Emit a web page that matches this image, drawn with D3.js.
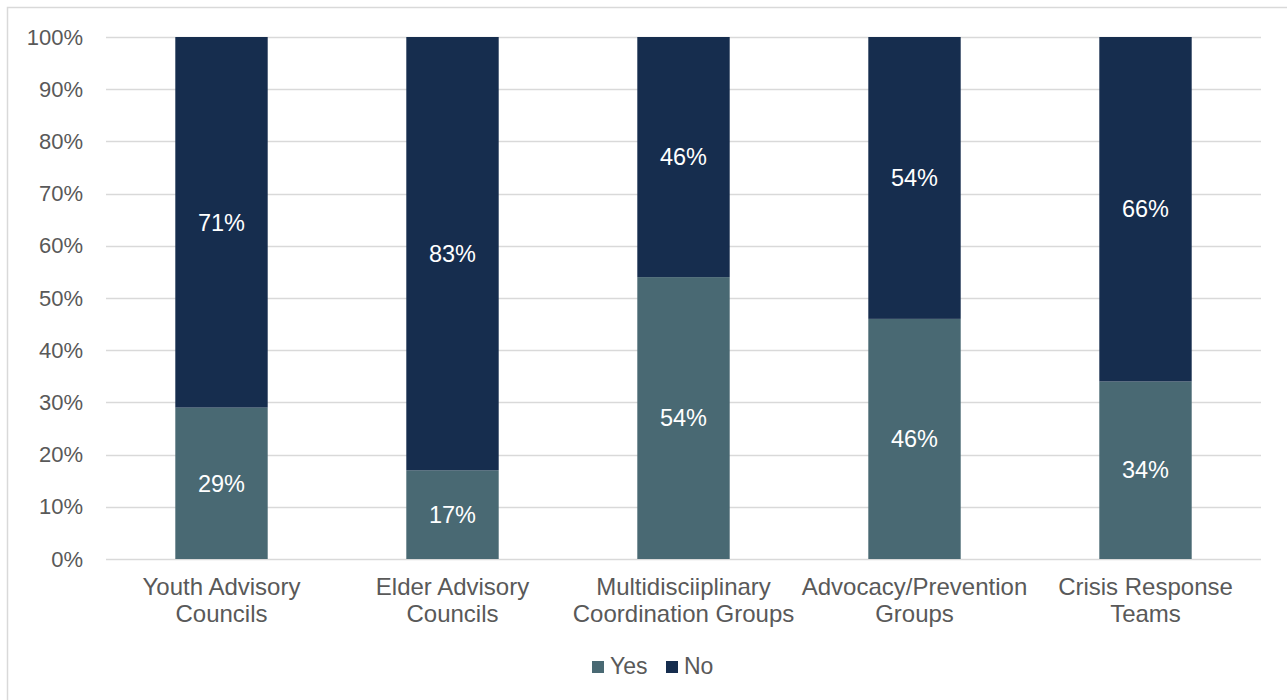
<!DOCTYPE html>
<html>
<head>
<meta charset="utf-8">
<script src="https://cdn.jsdelivr.net/npm/d3@7"></script>
<style>
  html, body { margin: 0; padding: 0; background: #fff; }
  svg { display: block; font-family: "Liberation Sans", Arial, sans-serif; }
</style>
</head>
<body>
<svg id="chart" width="1287" height="700"></svg>
<script>
// Share of respondents with each type of group
const categories = [
  ["Youth Advisory", "Councils"],
  ["Elder Advisory", "Councils"],
  ["Multidisciiplinary", "Coordination Groups"],
  ["Advocacy/Prevention", "Groups"],
  ["Crisis Response", "Teams"]
];
const yesValues = [29, 17, 54, 46, 34];
const noValues = [71, 83, 46, 54, 66];
const seriesNames = ["Yes", "No"];
const seriesColors = ["#496973", "#162D4E"];
const yTicks = [0, 10, 20, 30, 40, 50, 60, 70, 80, 90, 100];

const svg = d3.select("#chart");
const margin = { left: 106, right: 26, top: 37, bottom: 141 };
const W = 1287, H = 700;
const textColor = "#595959";

// Outer frame
svg.append("rect")
  .attr("x", 7.5).attr("y", 7.5)
  .attr("width", W).attr("height", H)
  .attr("fill", "none").attr("stroke", "#d9d9d9").attr("stroke-width", 1.5);

const x = d3.scaleBand()
  .domain(d3.range(categories.length))
  .range([margin.left, W - margin.right])
  .paddingInner(0.6)
  .paddingOuter(0.3);

const y = d3.scaleLinear().domain([0, 100]).range([H - margin.bottom, margin.top]);

// Gridlines
svg.append("g").selectAll("line").data(yTicks).join("line")
  .attr("x1", margin.left).attr("x2", W - margin.right)
  .attr("y1", d => Math.round(y(d)) + 0.5).attr("y2", d => Math.round(y(d)) + 0.5)
  .attr("stroke", "#d9d9d9").attr("stroke-width", 1.5);

// Y axis labels
const yAxis = d3.axisLeft(y).tickValues(yTicks).tickFormat(d => d + "%").tickSize(0).tickPadding(23);
const yg = svg.append("g").attr("transform", `translate(${margin.left},0)`).call(yAxis);
yg.select(".domain").remove();
yg.selectAll("text").attr("fill", textColor).style("font-size", "22px")
  .style("font-family", "'Liberation Sans', Arial, sans-serif");

// Stacked bars
const rows = categories.map((c, i) => ({ i, Yes: yesValues[i], No: noValues[i] }));
const stack = d3.stack().keys(seriesNames)(rows);

const layers = svg.append("g").selectAll("g").data(stack).join("g")
  .attr("fill", (d, k) => seriesColors[k]);

layers.selectAll("rect").data(d => d).join("rect")
  .attr("x", d => x(d.data.i))
  .attr("width", x.bandwidth())
  .attr("y", d => y(d[1]))
  .attr("height", d => y(d[0]) - y(d[1]));

// Value labels
layers.selectAll("text").data(d => d.map(v => ({ v, key: d.key }))).join("text")
  .attr("x", d => x(d.v.data.i) + x.bandwidth() / 2)
  .attr("y", d => (y(d.v[0]) + y(d.v[1])) / 2)
  .attr("dy", "0.35em")
  .attr("text-anchor", "middle")
  .attr("fill", "#fff")
  .style("font-size", "23.5px")
  .text(d => d.v.data[d.key] + "%");

// Category labels
const cat = svg.append("g").selectAll("text").data(categories).join("text")
  .attr("x", (d, i) => x(i) + x.bandwidth() / 2)
  .attr("y", H - margin.bottom + 36)
  .attr("text-anchor", "middle")
  .attr("fill", textColor)
  .style("font-size", "24px");
cat.selectAll("tspan").data(d => d).join("tspan")
  .attr("x", function () { return d3.select(this.parentNode).attr("x"); })
  .attr("dy", (d, j) => j === 0 ? 0 : 27)
  .text(d => d);

// Legend
const legend = svg.append("g").attr("transform", "translate(592,666)");
const legendOffsets = [0, 74];
const items = legend.selectAll("g").data(seriesNames).join("g")
  .attr("transform", (d, k) => `translate(${legendOffsets[k]},0)`);
items.append("rect")
  .attr("x", 0).attr("y", -5).attr("width", 12).attr("height", 12)
  .attr("fill", (d, k) => seriesColors[k]);
items.append("text")
  .attr("x", 18).attr("y", 0).attr("dy", "0.35em")
  .attr("fill", textColor).style("font-size", "23px")
  .text(d => d);
</script>
</body>
</html>
